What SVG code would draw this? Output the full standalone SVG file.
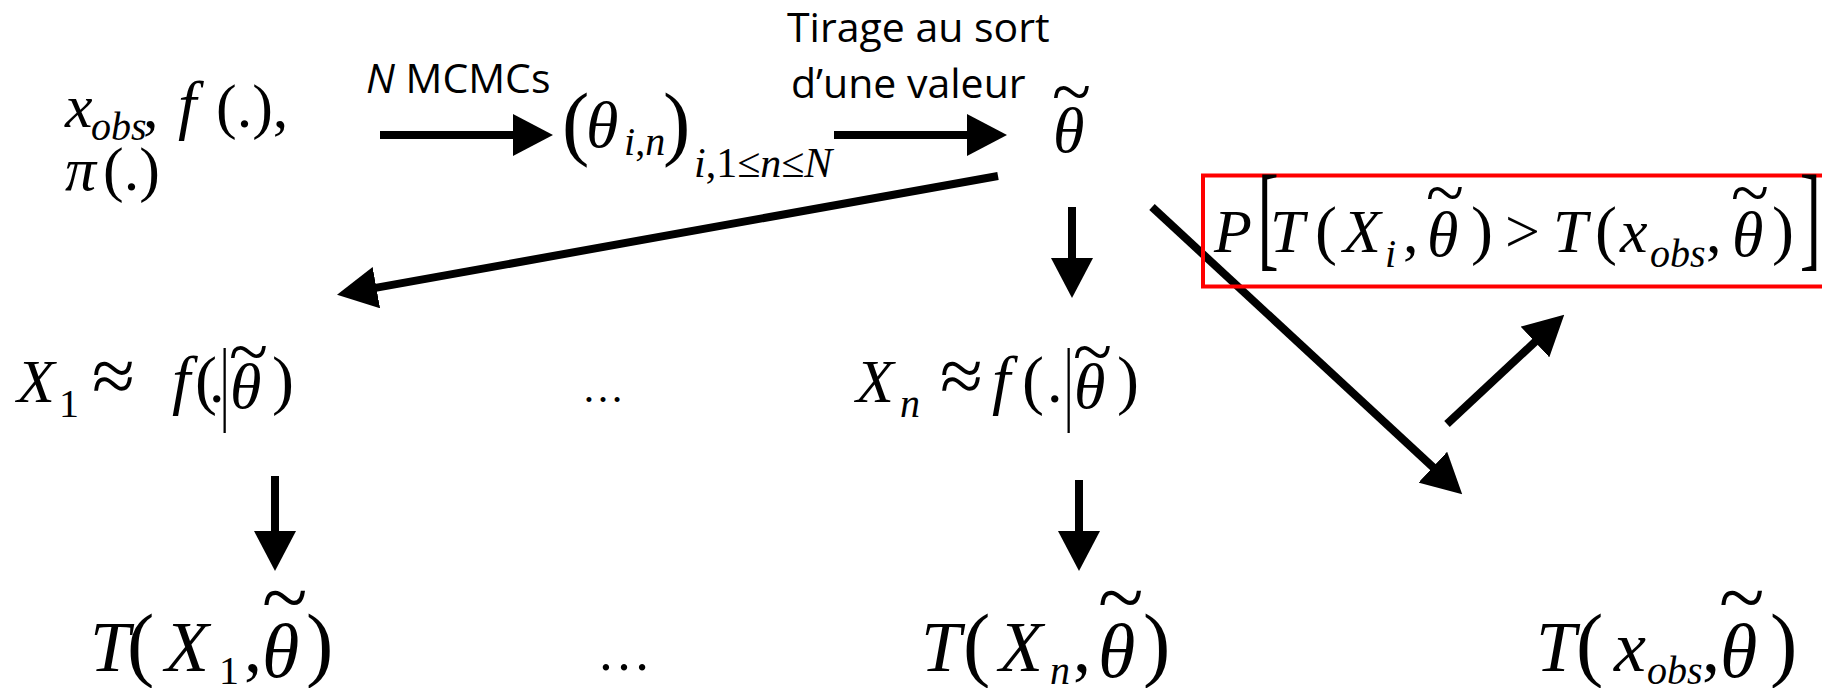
<svg xmlns="http://www.w3.org/2000/svg" width="1822" height="688" viewBox="0 0 1822 688">
<defs>
<marker id="ah" viewBox="0 0 40 42" markerWidth="40" markerHeight="42" refX="1" refY="21" orient="auto" markerUnits="userSpaceOnUse">
<path d="M0,0 L40,21 L0,42 Z" fill="#000"/>
</marker>
<style>
.m{font-family:"Liberation Serif","Times New Roman",serif;font-size:62px;fill:#000}
.i{font-style:italic}
.s{font-size:40px}
.b{font-size:72px}
.lbl{font-family:"Open Sans","Liberation Sans",sans-serif;font-size:41px;fill:#000}
.edge{stroke:#000;stroke-width:8;fill:none;marker-end:url(#ah)}
</style>
</defs>
<rect width="1822" height="688" fill="#fff"/>

<g id="connectors">
<line class="edge" x1="380" y1="135" x2="514" y2="135"/>
<line class="edge" x1="834" y1="135" x2="968" y2="135"/>
<line class="edge" x1="998" y1="176" x2="375.4" y2="287.9"/>
<line class="edge" x1="1072" y1="207" x2="1072" y2="259"/>
<line class="edge" x1="1152" y1="207" x2="1433.6" y2="467.8"/>
<line class="edge" x1="1447" y1="424" x2="1535.7" y2="341.3"/>
<line class="edge" x1="275" y1="476" x2="275" y2="532"/>
<line class="edge" x1="1079" y1="480" x2="1079" y2="532"/>
<text class="lbl" x="366" y="93"><tspan font-style="italic">N</tspan> MCMCs</text>
<text class="lbl" x="787" y="42">Tirage au sort</text>
<text class="lbl" x="791" y="98">d’une valeur</text>
</g>

<g id="n-input" class="m">
<text class="i" x="65" y="127">x</text>
<text class="i s" x="91" y="140">obs</text>
<text x="143" y="127">,</text>
<text class="i" x="178" y="127" font-size="66">f</text>
<text x="216" y="127">(.),</text>
<text class="i" x="65" y="190">π</text>
<text x="103" y="190">(.)</text>
</g>

<g id="n-thetas" class="m">
<text x="562" y="150" font-size="82">(</text>
<text class="i" x="586" y="147" font-size="66">θ</text>
<text class="s" x="624" y="155"><tspan class="i">i</tspan>,<tspan class="i">n</tspan></text>
<text x="663" y="150" font-size="82">)</text>
<text x="694" y="177" font-size="42"><tspan class="i">i</tspan>,1≤<tspan class="i">n</tspan>≤<tspan class="i">N</tspan></text>
</g>

<g id="n-theta" class="m">
<text class="i" x="1053" y="152" font-size="64">θ</text>
<text x="1052" y="116" font-size="72">~</text>
</g>

<g id="n-P" class="m">
<rect x="1203" y="175.5" width="660" height="111" fill="none" stroke="#ff0000" stroke-width="4"/>
<text class="i" x="1214" y="252">P</text>
<text transform="translate(1257.4,255) scale(0.55,1)" font-size="116">[</text>
<text class="i" x="1270" y="252">T</text>
<text x="1315" y="252" font-size="66">(</text>
<text class="i" x="1343" y="252">X</text>
<text class="i s" x="1385" y="267">i</text>
<text x="1403" y="252">,</text>
<text class="i" x="1427" y="256" font-size="64">θ</text>
<text x="1426" y="216" font-size="70">~</text>
<text x="1471" y="252" font-size="66">)</text>
<text x="1505" y="252">&gt;</text>
<text class="i" x="1553" y="252">T</text>
<text x="1595" y="252" font-size="66">(</text>
<text class="i" x="1620" y="252">x</text>
<text class="i s" x="1650" y="267">obs</text>
<text x="1706" y="252">,</text>
<text class="i" x="1732" y="256" font-size="64">θ</text>
<text x="1731" y="216" font-size="70">~</text>
<text x="1772" y="252" font-size="66">)</text>
<text transform="translate(1799.8,255) scale(0.55,1)" font-size="116">]</text>
</g>

<g id="n-X1" class="m">
<text class="i" x="17" y="402">X</text>
<text class="s" x="59" y="417">1</text>
<text x="92" y="402" font-size="78">≈</text>
<text class="i" x="172" y="402" font-size="66">f</text>
<text x="195" y="402" font-size="66">(</text>
<text x="209" y="402">.</text>
<text transform="translate(219.9,412.7) scale(0.5,1)" font-size="93">|</text>
<text class="i" x="230" y="408" font-size="64">θ</text>
<text x="229" y="376" font-size="72">~</text>
<text x="272" y="402" font-size="66">)</text>
</g>

<g id="n-dots1" class="m">
<text x="582" y="402" font-size="42">…</text>
</g>

<g id="n-Xn" class="m">
<text class="i" x="856" y="402">X</text>
<text class="i s" x="900" y="417">n</text>
<text x="940" y="402" font-size="78">≈</text>
<text class="i" x="992" y="402" font-size="66">f</text>
<text x="1022" y="402" font-size="66">(</text>
<text x="1047" y="402">.</text>
<text transform="translate(1063.9,412.7) scale(0.5,1)" font-size="93">|</text>
<text class="i" x="1074" y="408" font-size="64">θ</text>
<text x="1073" y="376" font-size="72">~</text>
<text x="1117" y="402" font-size="66">)</text>
</g>

<g id="n-T1" class="m b">
<text class="i" x="90" y="671">T</text>
<text x="127" y="671" font-size="82">(</text>
<text class="i" x="165" y="671">X</text>
<text class="s" x="219" y="684">1</text>
<text x="244" y="671">,</text>
<text class="i" x="262" y="677" font-size="76">θ</text>
<text x="262" y="626" font-size="84">~</text>
<text x="306" y="671" font-size="82">)</text>
</g>

<g id="n-dots2" class="m">
<text x="597" y="670" font-size="54">…</text>
</g>

<g id="n-Tn" class="m b">
<text class="i" x="921" y="671">T</text>
<text x="963" y="671" font-size="82">(</text>
<text class="i" x="999" y="671">X</text>
<text class="i s" x="1050" y="684">n</text>
<text x="1073" y="671">,</text>
<text class="i" x="1098" y="677" font-size="76">θ</text>
<text x="1098" y="626" font-size="84">~</text>
<text x="1143" y="671" font-size="82">)</text>
</g>

<g id="n-Tobs" class="m b">
<text class="i" x="1536" y="671">T</text>
<text x="1576" y="671" font-size="82">(</text>
<text class="i" x="1614" y="671">x</text>
<text class="i s" x="1647" y="684">obs</text>
<text x="1702" y="671">,</text>
<text class="i" x="1720" y="677" font-size="76">θ</text>
<text x="1719" y="626" font-size="84">~</text>
<text x="1770" y="671" font-size="82">)</text>
</g>
</svg>
